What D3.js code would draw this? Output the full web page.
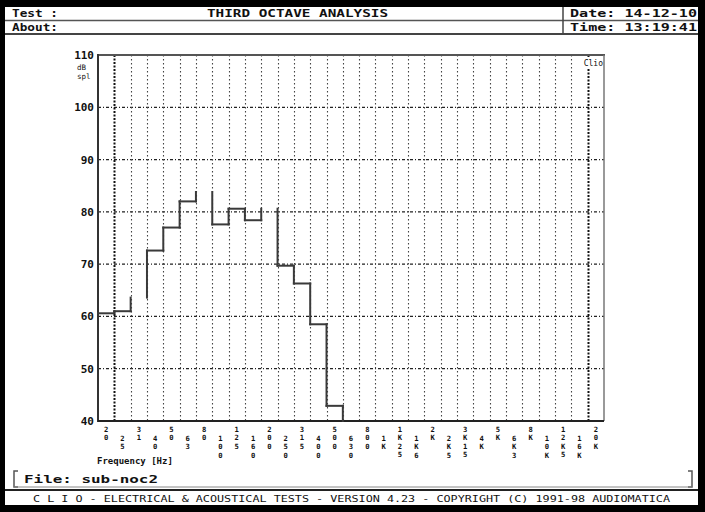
<!DOCTYPE html>
<html><head><meta charset="utf-8">
<script src="https://cdn.jsdelivr.net/npm/d3@7"></script>
<style>
html,body{margin:0;padding:0;background:#fff;}
svg{display:block;}
text{font-family:"DejaVu Sans Mono","Liberation Mono",monospace;fill:#111;}
</style></head>
<body>
<svg id="chart" width="705" height="512"></svg>
<script>
// ---- data ----
const bands = ["20","25","31.5","40","50","63","80","100","125","160","200","250","315","400","500","630","800","1K","1K25","1K6","2K","2K5","3K15","4K","5K","6K3","8K","10K","12K5","16K","20K"];
const tickLabels = ["20","25","31","40","50","63","80","100","125","160","200","250","315","400","500","630","800","1K","1K25","1K6","2K","2K5","3K15","4K","5K","6K3","8K","10K","12K5","16K","20K"];
const levels = [60.6,61.0,63.6,72.6,77.0,82.0,83.8,77.6,80.6,78.4,80.6,69.7,66.3,58.5,42.9,null,null,null,null,null,null,null,null,null,null,null,null,null,null,null,null];
const openBands = ["31.5","80","200"]; // bands whose top segment is not drawn in the reference
const yTicks = [40,50,60,70,80,90,100,110];
const gridLevels = [50,60,70,80,90,100];
const header = {title:"THIRD OCTAVE ANALYSIS", test:"Test :", about:"About:", date:"Date: 14-12-10", time:"Time: 13:19:41"};
const fileName = "File: sub-noc2";
const footer = "C L I O  -  ELECTRICAL & ACOUSTICAL TESTS  -  VERSION 4.23  -  COPYRIGHT (C) 1991-98 AUDIOMATICA";

(function(){
const svg = d3.select("#chart");
const W = 705, H = 512;

// outer frame
svg.append("rect").attr("x",0).attr("y",0).attr("width",W).attr("height",H).attr("fill","#000");
svg.append("rect").attr("x",5).attr("y",5).attr("width",693).attr("height",500).attr("fill","#fff");

// header lines
const g0 = svg.append("g");
g0.append("line").attr("x1",5).attr("x2",698).attr("y1",20.5).attr("y2",20.5).attr("stroke","#555").attr("stroke-width",1.5);
g0.append("line").attr("x1",5).attr("x2",698).attr("y1",34).attr("y2",34).attr("stroke","#444").attr("stroke-width",2);
g0.append("line").attr("x1",563).attr("x2",563).attr("y1",5).attr("y2",34).attr("stroke","#444").attr("stroke-width",1.5);
g0.append("line").attr("x1",5).attr("x2",698).attr("y1",6).attr("y2",6).attr("stroke","#000").attr("stroke-width",2);

const hdr = (t,x,y,anchor,len) => {
  const el = g0.append("text").attr("x",x).attr("y",y).attr("text-anchor",anchor||"start")
    .attr("font-size",11).attr("font-weight","bold").attr("fill","#222").text(t);
  if (len) el.attr("textLength",len).attr("lengthAdjust","spacingAndGlyphs");
  return el;
};
hdr(header.test,12,17,"start",46);
hdr(header.title,207,17,"start",181);
hdr(header.about,12,31,"start",46);
hdr(header.date,570,17,"start",127);
hdr(header.time,570,31,"start",127);

// ---- plot ----
const pL = 98, pR = 604, pT = 55, pB = 421;
const x = d3.scaleBand().domain(bands).range([pL,pR]).paddingInner(0).paddingOuter(0);
const y = d3.scaleLinear().domain([40,110]).range([pB,pT]);
const g = svg.append("g");

// horizontal grid (dash-dot)
g.selectAll(".hg").data(gridLevels).enter().append("line")
  .attr("x1",pL).attr("x2",pR).attr("y1",d=>y(d)).attr("y2",d=>y(d))
  .attr("stroke","#222").attr("stroke-width",1.2).attr("stroke-dasharray","3,2,1,2");

// vertical grid at band boundaries
const bounds = bands.slice(1);
const strong = (i)=> i===0||i===bounds.length-1;
g.selectAll(".vg").data(bounds).enter().append("line")
  .attr("x1",d=>Math.round(x(d))+0.5).attr("x2",d=>Math.round(x(d))+0.5)
  .attr("y1",pT).attr("y2",pB)
  .attr("stroke",(d,i)=> strong(i) ? "#111" : "#444")
  .attr("stroke-width",(d,i)=> strong(i) ? 2 : 1.1)
  .attr("stroke-dasharray",(d,i)=> strong(i) ? "2,1.5" : "1.5,2.5");

// frame
g.append("line").attr("x1",pL).attr("x2",pR+1).attr("y1",pT).attr("y2",pT).attr("stroke","#555").attr("stroke-width",2);
g.append("line").attr("x1",pR).attr("x2",pR).attr("y1",pT).attr("y2",pB).attr("stroke","#777").attr("stroke-width",1.5);
g.append("line").attr("x1",pL).attr("x2",pL).attr("y1",pT-1).attr("y2",pB+1).attr("stroke","#333").attr("stroke-width",2);
g.append("line").attr("x1",pL).attr("x2",pR).attr("y1",pB).attr("y2",pB).attr("stroke","#222").attr("stroke-width",2);

// y labels
const yAxis = d3.axisLeft(y).tickValues(yTicks).tickSize(0).tickPadding(4).tickFormat(d3.format("d"));
const ya = g.append("g").attr("transform",`translate(${pL},0)`).call(yAxis);
ya.select(".domain").remove();
ya.selectAll("text").attr("font-size",11).attr("font-weight","bold").attr("fill","#222")
  .style("font-family","DejaVu Sans Mono, monospace");
g.append("text").attr("x",77).attr("y",70).attr("font-size",7.5).text("dB");
g.append("text").attr("x",77).attr("y",79).attr("font-size",7.5).text("spl");
g.append("rect").attr("x",587).attr("y",58).attr("width",16).attr("height",10).attr("fill","#fff");
g.append("text").attr("x",603).attr("y",66).attr("text-anchor","end").attr("font-size",8).text("Clio");

// x labels: stacked characters, alternating rows
const xl = g.append("g");
const fs = 7.2, pitch = 8.4;
tickLabels.forEach((lab,i)=>{
  const cx = x(bands[i]) + x.bandwidth()/2;
  const y0 = (i%2===0) ? 432 : 441;
  lab.split("").forEach((ch,k)=>{
    xl.append("text").attr("x",cx).attr("y",y0 + k*pitch).attr("text-anchor","middle")
      .attr("font-size",fs).attr("font-weight","bold").attr("fill","#222").text(ch);
  });
});
xl.append("text").attr("x",97).attr("y",464).attr("font-size",9).attr("font-weight","bold").attr("fill","#222").text("Frequency [Hz]");

// step trace
const yv = v => y(v==null ? 40 : Math.max(40,v));
const segs = [];
bands.forEach((b,i)=>{
  const v = levels[i];
  if (v!=null && v>=40 && !openBands.includes(b)) segs.push([[x(b),yv(v)],[x(b)+x.bandwidth(),yv(v)]]);
  if (i < bands.length-1) {
    const n = levels[i+1];
    if (!(v==null && n==null)) {
      const xb = x(bands[i+1]);
      if (yv(v)!==yv(n)) segs.push([[xb,yv(v)],[xb,yv(n)]]);
    }
  }
});
const line = d3.line();
g.selectAll(".seg").data(segs).enter().append("path")
  .attr("d",d=>line(d)).attr("stroke","#3a3a3a").attr("stroke-width",2).attr("fill","none").attr("stroke-linecap","square");

// footer file box
const f = svg.append("g");
f.append("path").attr("d","M18,471 L14,471 L14,487 L18,487").attr("stroke","#555").attr("stroke-width",1.5).attr("fill","none");
f.append("path").attr("d","M688,471 L692,471 L692,487 L688,487").attr("stroke","#555").attr("stroke-width",1.5).attr("fill","none");
f.append("line").attr("x1",14).attr("x2",692).attr("y1",487).attr("y2",487).attr("stroke","#888").attr("stroke-width",1);
f.append("text").attr("x",24).attr("y",483).attr("font-size",11).attr("font-weight","bold").attr("fill","#222").attr("textLength",134).attr("lengthAdjust","spacingAndGlyphs").text(fileName);
f.append("line").attr("x1",5).attr("x2",698).attr("y1",490).attr("y2",490).attr("stroke","#222").attr("stroke-width",2);
f.append("text").attr("x",33).attr("y",502).attr("font-size",9).attr("fill","#222").attr("textLength",637).attr("lengthAdjust","spacingAndGlyphs").text(footer);
})();
</script>
</body></html>
